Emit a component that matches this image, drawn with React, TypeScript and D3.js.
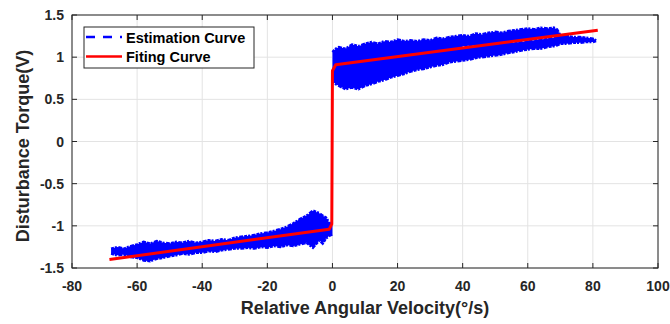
import * as d3 from "d3";

// x/y limits and ticks
const xTicks = [-80, -60, -40, -20, 0, 20, 40, 60, 80, 100];
const yTicks = [-1.5, -1, -0.5, 0, 0.5, 1, 1.5];

// estimation curve band (negative velocity side)
const negX = [-68, -66, -64, -62, -60, -58, -56, -54, -52, -50, -48, -46, -44, -42, -40, -38, -36, -34, -32, -30, -28, -26, -24, -22, -20, -18, -16, -14, -12, -10, -8, -6, -4, -3, -2, -1, 0];
const negUpper = [-1.27, -1.25, -1.27, -1.24, -1.22, -1.19, -1.21, -1.18, -1.2, -1.21, -1.19, -1.2, -1.18, -1.2, -1.19, -1.17, -1.18, -1.16, -1.17, -1.14, -1.13, -1.12, -1.11, -1.09, -1.08, -1.06, -1.04, -1.01, -0.97, -0.92, -0.88, -0.82, -0.85, -0.88, -0.9, -0.96, -1.0];
const negLower = [-1.33, -1.35, -1.34, -1.37, -1.38, -1.41, -1.42, -1.39, -1.38, -1.36, -1.35, -1.33, -1.34, -1.32, -1.32, -1.3, -1.31, -1.29, -1.28, -1.27, -1.27, -1.26, -1.27, -1.25, -1.26, -1.24, -1.25, -1.23, -1.24, -1.22, -1.2, -1.26, -1.17, -1.21, -1.15, -1.12, -1.1];

// estimation curve band (positive velocity side)
const posX = [0, 1, 2, 4, 6, 8, 10, 12, 14, 16, 18, 20, 22, 24, 26, 28, 30, 32, 34, 36, 38, 40, 42, 44, 46, 48, 50, 52, 54, 56, 58, 60, 62, 64, 66, 68, 69, 70, 72, 74, 76, 78, 80, 81];
const posUpper = [1.06, 1.1, 1.12, 1.1, 1.15, 1.13, 1.16, 1.18, 1.16, 1.19, 1.18, 1.21, 1.19, 1.2, 1.19, 1.21, 1.2, 1.23, 1.22, 1.24, 1.25, 1.26, 1.25, 1.28, 1.27, 1.29, 1.3, 1.29, 1.31, 1.32, 1.33, 1.34, 1.33, 1.35, 1.34, 1.35, 1.33, 1.26, 1.25, 1.24, 1.24, 1.23, 1.22, 1.2];
const posLower = [0.72, 0.68, 0.66, 0.62, 0.64, 0.62, 0.66, 0.68, 0.71, 0.73, 0.76, 0.78, 0.8, 0.83, 0.85, 0.86, 0.88, 0.9, 0.91, 0.94, 0.95, 0.96, 0.97, 0.99, 1.0, 1.01, 1.02, 1.03, 1.05, 1.06, 1.08, 1.09, 1.1, 1.1, 1.12, 1.13, 1.14, 1.16, 1.16, 1.17, 1.17, 1.18, 1.18, 1.19];

// white gaps seen inside the band
const gapX = [40, 46, 52, 58, 64, 68];
const gapY = [1.12, 1.14, 1.17, 1.19, 1.22, 1.24];

// fitting curve
const fitX = [-68.5, -1, -0.2, 0, 1, 81.5];
const fitY = [-1.4, -1.04, -0.98, 0.84, 0.91, 1.32];

const W = 670;
const H = 324;
const m = { left: 72, right: 12, top: 15, bottom: 56 };
const font = "'Liberation Sans', Arial, Helvetica, sans-serif";
const axisColor = "#262626";

export default function App() {
  const x = d3.scaleLinear().domain([-80, 100]).range([m.left, W - m.right]);
  const y = d3.scaleLinear().domain([-1.5, 1.5]).range([H - m.bottom, m.top]);

  const band = (xs: number[], up: number[], lo: number[]) =>
    d3
      .area<number>()
      .x((_, i) => x(xs[i]))
      .y0((_, i) => y(lo[i]))
      .y1((_, i) => y(up[i]))(xs) || "";

  const edge = (xs: number[], ys: number[]) =>
    d3
      .line<number>()
      .x((_, i) => x(xs[i]))
      .y((_, i) => y(ys[i]))(xs) || "";

  const x0 = x(-80);
  const x1 = x(100);
  const y0 = y(-1.5);
  const y1 = y(1.5);

  return (
    <svg
      width={W}
      height={H}
      style={{ position: "absolute", left: 0, top: 0, background: "#fff" }}
      fontFamily={font}
    >
      {/* grid */}
      {xTicks.map((t) => (
        <line key={"gx" + t} x1={x(t)} x2={x(t)} y1={y0} y2={y1} stroke="#e3e3e3" strokeWidth={1} />
      ))}
      {yTicks.map((t) => (
        <line key={"gy" + t} x1={x0} x2={x1} y1={y(t)} y2={y(t)} stroke="#e3e3e3" strokeWidth={1} />
      ))}

      {/* estimation curve */}
      <g>
        <path d={band(negX, negUpper, negLower)} fill="#0000ff" />
        <path d={band(posX, posUpper, posLower)} fill="#0000ff" />
        {[
          [negX, negUpper],
          [negX, negLower],
          [posX, posUpper],
          [posX, posLower],
        ].map(([xs, ys], i) => (
          <path
            key={"e" + i}
            d={edge(xs, ys)}
            fill="none"
            stroke="#0000ff"
            strokeWidth={2.5}
            strokeDasharray="3,1,2,1.5,4,1"
          />
        ))}
        <path
          d={edge(gapX, gapY)}
          fill="none"
          stroke="#ffffff"
          strokeWidth={1.5}
          strokeDasharray="2,3,1,4"
        />
      </g>

      {/* fitting curve */}
      <path
        d={edge(fitX, fitY)}
        fill="none"
        stroke="#ff0000"
        strokeWidth={3}
        strokeLinejoin="round"
      />

      {/* box + ticks */}
      <rect x={x0} y={y1} width={x1 - x0} height={y0 - y1} fill="none" stroke={axisColor} strokeWidth={1} />
      {xTicks.map((t) => (
        <g key={"tx" + t}>
          <line x1={x(t)} x2={x(t)} y1={y0} y2={y0 - 5} stroke={axisColor} />
          <line x1={x(t)} x2={x(t)} y1={y1} y2={y1 + 5} stroke={axisColor} />
          <text
            x={x(t)}
            y={y0 + 23}
            textAnchor="middle"
            fontSize={14}
            fontWeight="bold"
            fill={axisColor}
          >
            {t}
          </text>
        </g>
      ))}
      {yTicks.map((t) => (
        <g key={"ty" + t}>
          <line x1={x0} x2={x0 + 5} y1={y(t)} y2={y(t)} stroke={axisColor} />
          <line x1={x1} x2={x1 - 5} y1={y(t)} y2={y(t)} stroke={axisColor} />
          <text
            x={x0 - 8}
            y={y(t) + 5}
            textAnchor="end"
            fontSize={14}
            fontWeight="bold"
            fill={axisColor}
          >
            {t}
          </text>
        </g>
      ))}

      {/* axis titles */}
      <text
        x={(x0 + x1) / 2}
        y={H - 10}
        textAnchor="middle"
        fontSize={18}
        fontWeight="bold"
        fill={axisColor}
      >
        Relative Angular Velocity(°/s)
      </text>
      <text
        transform={`translate(29,146) rotate(-90)`}
        textAnchor="middle"
        fontSize={18}
        fontWeight="bold"
        fill={axisColor}
      >
        Disturbance Torque(V)
      </text>

      {/* legend */}
      <g transform="translate(84,27)">
        <rect x={0} y={0} width={170} height={41} fill="#fff" stroke={axisColor} strokeWidth={1} />
        <line x1={2} x2={38} y1={10} y2={10} stroke="#0000ff" strokeWidth={2.5} strokeDasharray="9,8" />
        <text x={42} y={15.5} fontSize={14.5} fontWeight="bold" fill="#000">
          Estimation Curve
        </text>
        <line x1={2} x2={38} y1={29.5} y2={29.5} stroke="#ff0000" strokeWidth={2.5} />
        <text x={42} y={35} fontSize={14.5} fontWeight="bold" fill="#000">
          Fiting Curve
        </text>
      </g>
    </svg>
  );
}
